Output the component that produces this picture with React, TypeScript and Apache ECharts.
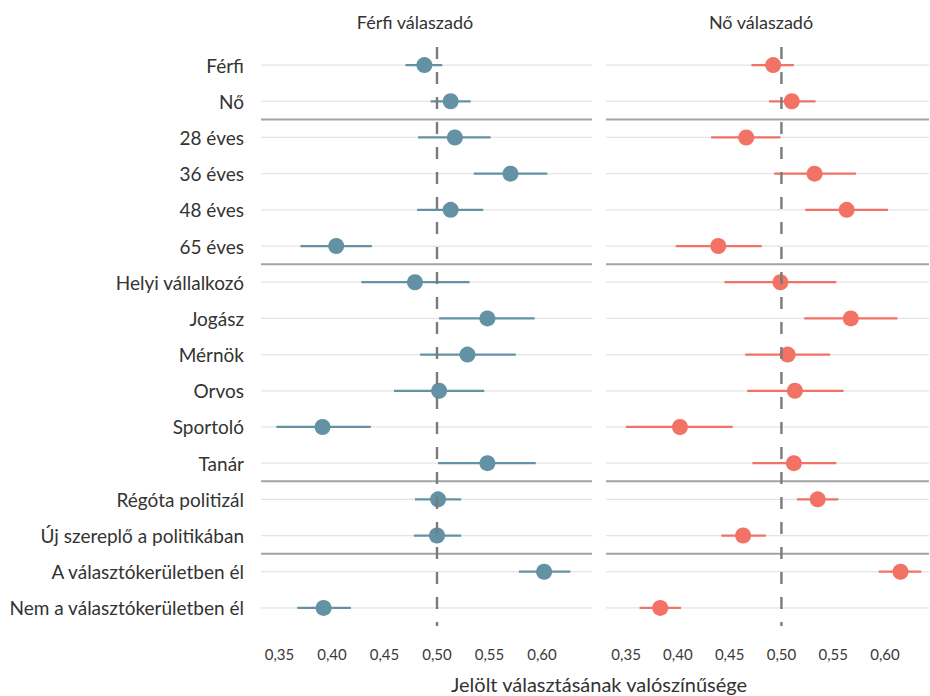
import React, { useEffect, useRef } from "react";
import * as echarts from "echarts";

const categories = [
  "Férfi", "Nő",
  "28 éves", "36 éves", "48 éves", "65 éves",
  "Helyi vállalkozó", "Jogász", "Mérnök", "Orvos", "Sportoló", "Tanár",
  "Régóta politizál", "Új szereplő a politikában",
  "A választókerületben él", "Nem a választókerületben él",
];

// index of the last category before each group separator
const groupBreaks = [1, 5, 11, 13];

// Férfi válaszadó (male respondents)
const maleEst = [0.488, 0.513, 0.517, 0.570, 0.513, 0.404, 0.479, 0.548, 0.529, 0.502, 0.391, 0.548, 0.501, 0.500, 0.602, 0.392];
const maleLo = [0.470, 0.494, 0.482, 0.535, 0.481, 0.370, 0.428, 0.502, 0.484, 0.459, 0.347, 0.501, 0.479, 0.478, 0.578, 0.367];
const maleHi = [0.505, 0.532, 0.551, 0.605, 0.544, 0.438, 0.531, 0.593, 0.575, 0.545, 0.437, 0.594, 0.523, 0.523, 0.627, 0.418];

// Nő válaszadó (female respondents)
const femaleEst = [0.492, 0.510, 0.466, 0.532, 0.563, 0.439, 0.499, 0.567, 0.506, 0.513, 0.402, 0.512, 0.535, 0.463, 0.615, 0.383];
const femaleLo = [0.471, 0.488, 0.432, 0.493, 0.523, 0.398, 0.445, 0.522, 0.465, 0.467, 0.350, 0.472, 0.515, 0.442, 0.594, 0.363];
const femaleHi = [0.512, 0.533, 0.499, 0.572, 0.603, 0.481, 0.553, 0.612, 0.547, 0.560, 0.453, 0.553, 0.555, 0.485, 0.635, 0.403];

const tickValues = [0.35, 0.4, 0.45, 0.5, 0.55, 0.6];
const panelTitles = ["Férfi válaszadó", "Nő válaszadó"];
const xAxisTitle = "Jelölt választásának valószínűsége";
const referenceValue = 0.5;

const TEAL = "#6292a3";
const SALMON = "#f27366";
const FONT = "Lato, 'Noto Sans', sans-serif";

function pointSeries(est: number[], lo: number[], hi: number[], idx: number, color: string) {
  return {
    type: "custom",
    xAxisIndex: idx,
    yAxisIndex: idx,
    z: 2,
    encode: { x: 0, y: 3 },
    data: est.map((v, i) => [v, lo[i], hi[i], i]),
    renderItem: (params: any, api: any) => {
      const cs = params.coordSys;
      const i = api.value(3);
      const p = api.coord([api.value(0), i]);
      const l = api.coord([api.value(1), i]);
      const h = api.coord([api.value(2), i]);
      return {
        type: "group",
        children: [
          { type: "line", z2: 0, shape: { x1: cs.x, y1: p[1], x2: cs.x + cs.width, y2: p[1] }, style: { stroke: "#e4e4e4", lineWidth: 1.2 } },
          { type: "line", z2: 1, shape: { x1: l[0], y1: p[1], x2: h[0], y2: p[1] }, style: { stroke: color, lineWidth: 2.2 } },
          { type: "circle", z2: 2, shape: { cx: p[0], cy: p[1], r: 8 }, style: { fill: color } },
        ],
      };
    },
  };
}

function separatorSeries(idx: number) {
  return {
    type: "custom",
    xAxisIndex: idx,
    yAxisIndex: idx,
    z: 3,
    encode: { x: 0, y: 1 },
    data: groupBreaks.map((b) => [referenceValue, b]),
    renderItem: (params: any, api: any) => {
      const cs = params.coordSys;
      const i = api.value(1);
      const a = api.coord([api.value(0), i]);
      const b = api.coord([api.value(0), i + 1]);
      const y = (a[1] + b[1]) / 2;
      return { type: "line", shape: { x1: cs.x, y1: y, x2: cs.x + cs.width, y2: y }, style: { stroke: "#a3a3a3", lineWidth: 2 } };
    },
  };
}

function refLineSeries(idx: number) {
  return {
    type: "custom",
    xAxisIndex: idx,
    yAxisIndex: idx,
    z: 5,
    encode: { x: 0, y: 1 },
    data: [[referenceValue, 0]],
    renderItem: (params: any, api: any) => {
      const cs = params.coordSys;
      const p = api.coord([api.value(0), 0]);
      return {
        type: "line",
        shape: { x1: p[0], y1: cs.y, x2: p[0], y2: cs.y + cs.height },
        style: { stroke: "#7a7a7a", lineWidth: 2.4, lineDash: [12, 13] },
      };
    },
  };
}

function xAxis(idx: number, min: number, max: number) {
  return {
    type: "value",
    gridIndex: idx,
    min,
    max,
    axisLine: { show: false },
    axisTick: { show: false },
    splitLine: { show: false },
    axisLabel: {
      customValues: tickValues,
      formatter: (v: number) => v.toFixed(2).replace(".", ","),
      color: "#3a3a3a",
      fontSize: 15,
      fontFamily: FONT,
      margin: 20,
    },
  };
}

function yAxis(idx: number, showLabels: boolean) {
  return {
    type: "category",
    gridIndex: idx,
    data: categories,
    inverse: true,
    axisLine: { show: false },
    axisTick: { show: false },
    splitLine: { show: false },
    axisLabel: {
      show: showLabels,
      color: "#333333",
      fontSize: 19,
      fontFamily: FONT,
      margin: 17,
    },
  };
}

export default function App() {
  const ref = useRef<HTMLDivElement>(null);
  useEffect(() => {
    document.body.style.margin = "0";
    if (!ref.current) return;
    const chart = echarts.init(ref.current, null, { renderer: "svg" });
    chart.setOption({
      animation: false,
      backgroundColor: "#ffffff",
      grid: [
        { left: 261, top: 47, width: 331, height: 579 },
        { left: 606, top: 47, width: 323, height: 579 },
      ],
      xAxis: [xAxis(0, 0.3324, 0.6476), xAxis(1, 0.3306, 0.6425)],
      yAxis: [yAxis(0, true), yAxis(1, false)],
      series: [
        pointSeries(maleEst, maleLo, maleHi, 0, TEAL),
        pointSeries(femaleEst, femaleLo, femaleHi, 1, SALMON),
        separatorSeries(0),
        separatorSeries(1),
        refLineSeries(0),
        refLineSeries(1),
      ],
      graphic: [
        { type: "text", x: 415, y: 22, style: { text: panelTitles[0], fill: "#333", fontSize: 18, fontFamily: FONT, align: "center", verticalAlign: "middle" } },
        { type: "text", x: 761, y: 22, style: { text: panelTitles[1], fill: "#333", fontSize: 18, fontFamily: FONT, align: "center", verticalAlign: "middle" } },
        { type: "text", x: 599, y: 684, style: { text: xAxisTitle, fill: "#333", fontSize: 20, fontFamily: FONT, align: "center", verticalAlign: "middle" } },
      ],
    });
    return () => chart.dispose();
  }, []);
  return <div ref={ref} style={{ width: 930, height: 696 }} />;
}
